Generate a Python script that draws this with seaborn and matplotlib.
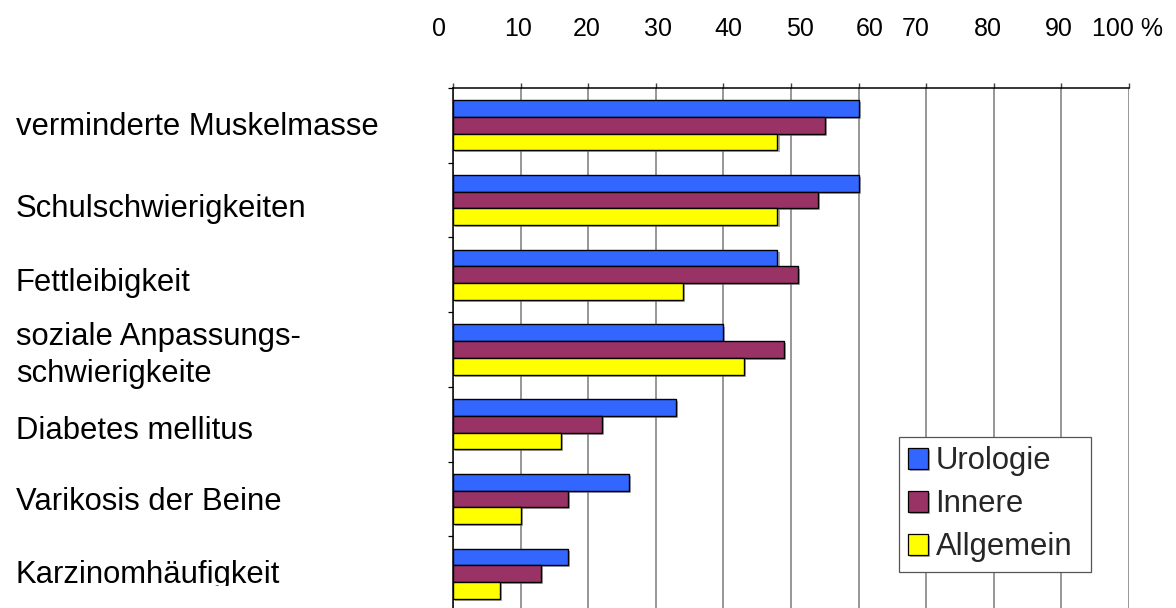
import numpy as np
import pandas as pd
import matplotlib
matplotlib.use("Agg")
import matplotlib.pyplot as plt
import matplotlib.patheffects as pe
from matplotlib.patches import Rectangle
import seaborn as sns

# --- data -------------------------------------------------------------
symptoms = [
    "verminderte Muskelmasse",
    "Schulschwierigkeiten",
    "Fettleibigkeit",
    "soziale Anpassungs-\nschwierigkeite",
    "Diabetes mellitus",
    "Varikosis der Beine",
    "Karzinomhäufigkeit",
]
urologie = [60, 60, 48, 40, 33, 26, 17]
innere = [55, 54, 51, 49, 22, 17, 13]
allgemein = [48, 48, 34, 43, 16, 10, 7]
departments = ["Urologie", "Innere", "Allgemein"]
scale_labels = ["0", "10", "20", "30", "40", "50", "60", "70", "80", "90", "100 %"]

# --- layout / style ---------------------------------------------------
W, H = 1176, 608
colors = ["#3366FF", "#993366", "#FFFF00"]
scale_label_x_px = [439, 518, 587, 658, 728.5, 800, 870, 916, 988, 1059, 1128]
scale_label_baseline_px = 36
label_baselines_px = [[135], [217], [291], [345, 382], [439], [510], [583]]
label_x_px = 16
label_clip_px = 586
fs_label = 22.3
fs_scale = 18

sns.set_style("white")
plt.rcParams["font.family"] = ["Liberation Sans", "DejaVu Sans"]

df = pd.DataFrame({
    "Symptom": np.repeat(symptoms, 3),
    "Abteilung": departments * len(symptoms),
    "Prozent": np.ravel(np.column_stack([urologie, innere, allgemein])),
})

fig = plt.figure(figsize=(W / 100, H / 100), dpi=100)
ax = fig.add_axes([453 / W, 1 - 611 / H, (1129 - 453) / W, (611 - 88) / H])

sns.barplot(
    data=df, y="Symptom", x="Prozent", hue="Abteilung", orient="h",
    order=symptoms, hue_order=departments, palette=colors, saturation=1,
    width=0.67, edgecolor="black", linewidth=1.0, ax=ax,
)

# soft grey drop shadow behind each bar
for p in ax.patches:
    p.set_path_effects([
        pe.SimplePatchShadow(offset=(1.5, -1.5), shadow_rgbFace=(0.45, 0.45, 0.45), alpha=0.6),
        pe.Normal(),
    ])

ax.set_xlim(0, 100)
ax.set_ylim(len(symptoms) - 0.5, -0.5)
ax.set_xlabel("")
ax.set_ylabel("")

# value axis on top, grey vertical grid
ax.xaxis.tick_top()
ax.set_xticks(np.arange(0, 101, 10))
ax.set_xticklabels([])
ax.tick_params(axis="x", which="major", length=3.8, width=1.0, color="#404040", direction="out")
ax.grid(axis="x", color="#7a7a7a", linewidth=1.1)
ax.grid(axis="y", visible=False)
ax.set_axisbelow(True)

# category axis: short ticks at group boundaries, labels drawn separately
ax.set_yticks(range(len(symptoms)))
ax.set_yticklabels([])
ax.tick_params(axis="y", which="major", length=0)
ax.set_yticks(np.arange(-0.5, len(symptoms), 1), minor=True)
ax.tick_params(axis="y", which="minor", length=3.8, width=0.9, color="black", direction="out", left=True)

for side in ("right", "bottom"):
    ax.spines[side].set_visible(False)
for side in ("top", "left"):
    ax.spines[side].set_color("black")
    ax.spines[side].set_linewidth(1.1)

# category labels
clip = Rectangle((0, (H - label_clip_px) / H), 0.5, 1, transform=fig.transFigure)
for name, baselines in zip(symptoms, label_baselines_px):
    for line, yb in zip(name.split("\n"), baselines):
        t = fig.text(label_x_px / W, 1 - yb / H, line, ha="left", va="baseline",
                     fontsize=fs_label, color="black")
        t.set_clip_path(clip)

# percentage scale row above the plot
for lab, xc in zip(scale_labels, scale_label_x_px):
    fig.text(xc / W, 1 - scale_label_baseline_px / H, lab, ha="center", va="baseline",
             fontsize=fs_scale, color="black")

# legend
handles, labels = ax.get_legend_handles_labels()
if ax.get_legend() is not None:
    ax.get_legend().remove()
leg = fig.legend(
    handles, labels, loc="upper left",
    bbox_to_anchor=(899 / W, 1 - 437 / H, 192 / W, 0.0), mode="expand",
    borderaxespad=0, fontsize=fs_label, frameon=True, fancybox=False,
    framealpha=1, edgecolor="#555555", borderpad=0.3, labelspacing=0.42,
    handlelength=0.63, handleheight=0.63, handletextpad=0.25,
)
leg.get_frame().set_linewidth(0.9)
for h in leg.legend_handles:
    h.set_edgecolor("black")
    h.set_linewidth(0.9)

fig.savefig("out.png", dpi=100)
